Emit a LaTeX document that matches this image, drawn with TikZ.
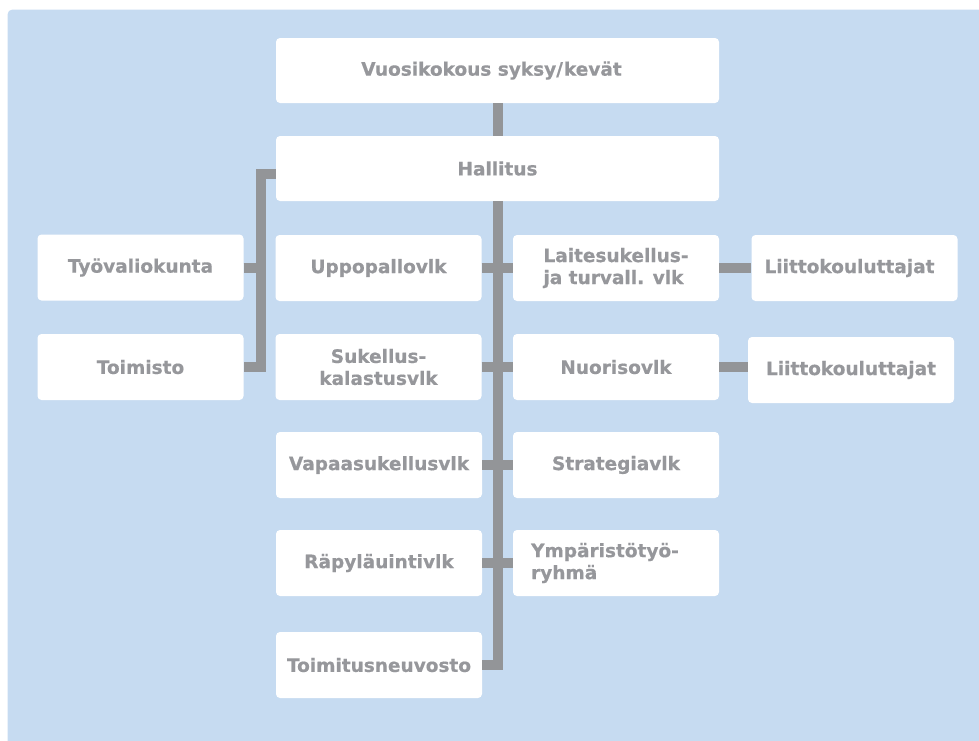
\documentclass[tikz,border=0pt]{standalone}
\usepackage{fontspec}
\setmainfont{DejaVu Sans}[BoldFeatures={FakeBold=0.6}]
\usetikzlibrary{calc}
\definecolor{bgblue}{HTML}{C6DBF1}
\definecolor{conngray}{HTML}{939598}
\definecolor{txtgray}{HTML}{96979B}
\tikzset{
  box/.style={fill=white, rounded corners=4pt, inner sep=0pt, minimum width=206pt, minimum height=66pt,
    text=txtgray, font=\bfseries\fontsize{18.5}{22}\selectfont, align=center},
  widebox/.style={box, minimum width=443pt, minimum height=65pt},
  conn/.style={draw=conngray, line width=10pt, line join=miter, line cap=butt}
}
\begin{document}
\begin{tikzpicture}[x=1pt,y=-1pt]
\useasboundingbox (0,0) rectangle (979,740);
\fill[bgblue, rounded corners=5pt] (7.5,9.5) rectangle (990,750);
% nodes
\node[widebox] (vuosi) at (497.5,70.5) {Vuosikokous syksy/\hspace{1pt}kevät\rule{12pt}{0pt}};
\node[widebox] (hallitus) at (497.5,168.5) {Hallitus};
\node[box] (tyo) at (140.5,267.5) {Työvaliokunta};
\node[box] (toimisto) at (140.5,367) {Toimisto};
\node[box] (uppo) at (378.5,268) {Uppopallovlk};
\node[box] (sukellus) at (378.5,367) {Sukellus-\\kalastusvlk};
\node[box] (vapaa) at (379,465) {Vapaasukellusvlk};
\node[box] (rapyla) at (379,563) {Räpyläuintivlk};
\node[box] (toimitus) at (379,665) {Toimitusneuvosto};
\node[box, align=left] (laite) at (616,268) {Laitesukellus-\\ja turvall. vlk};
\node[box] (nuoriso) at (616,367) {Nuorisovlk};
\node[box] (strategia) at (616,465) {Strategiavlk};
\node[box, align=left] (ymparisto) at (616,563) {Ympäristötyö-\rule{22pt}{0pt}\\ryhmä};
\node[box] (liitto1) at (854.5,268) {Liittokouluttajat\rule{10pt}{0pt}};
\node[box] (liitto2) at (851,370) {Liittokouluttajat};
% connectors
\draw[conn] (vuosi.south) -- (hallitus.north);
\draw[conn] (hallitus.south) |- (toimitus.east);
\draw[conn] (uppo.east) -- (laite.west);
\draw[conn] (sukellus.east) -- (nuoriso.west);
\draw[conn] (vapaa.east) -- (strategia.west);
\draw[conn] (rapyla.east) -- (ymparisto.west);
\draw[conn] (laite.east) -- (liitto1.west);
\draw[conn] (nuoriso.east) -- (nuoriso.east -| liitto2.west);
\coordinate (hl) at ([yshift=-5pt]hallitus.west);
\coordinate (bx) at (261,0);
\draw[conn] (hl) -- (hl -| bx) -- (bx |- toimisto.east) -- (toimisto.east);
\draw[conn] (tyo.east) -- (tyo.east -| bx);
\end{tikzpicture}
\end{document}
